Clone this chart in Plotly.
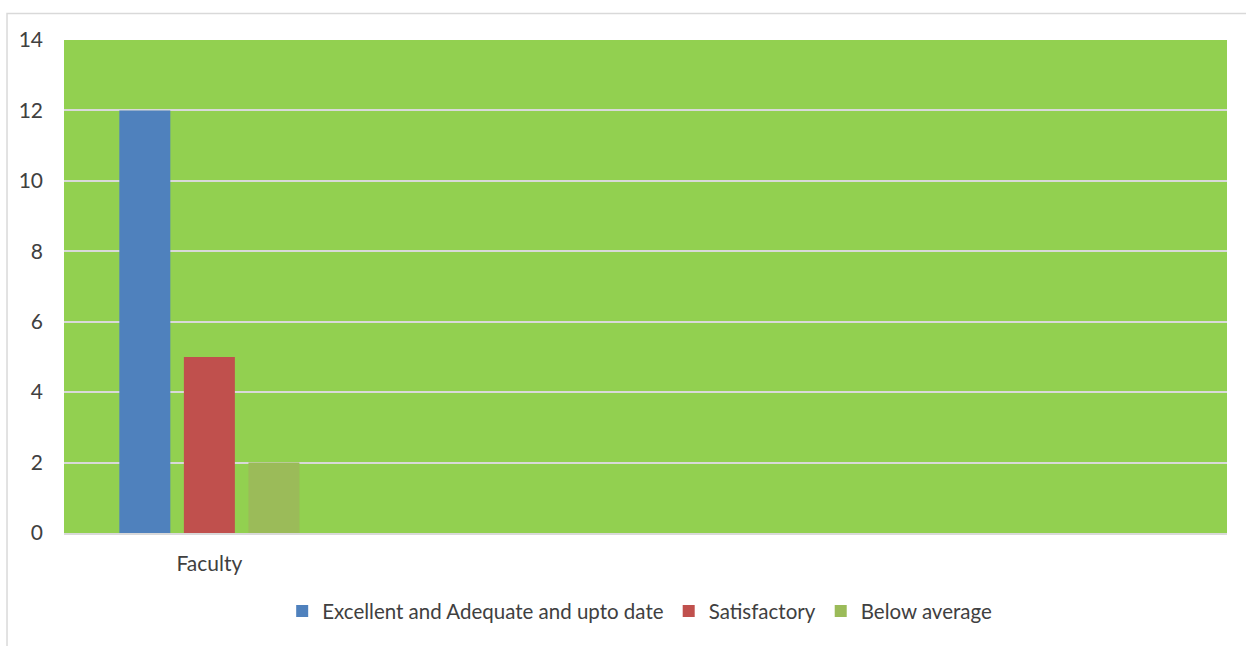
import plotly.graph_objects as go

categories = ["Faculty"]
series_names = ["Excellent and Adequate and upto date", "Satisfactory", "Below average"]
excellent = [12]
satisfactory = [5]
below_average = [2]
y_ticks = [0, 2, 4, 6, 8, 10, 12, 14]

colors = ["#4F81BD", "#C0504D", "#9BBB59"]
values = [excellent, satisfactory, below_average]

fig = go.Figure()
for name, vals, col in zip(series_names, values, colors):
    fig.add_trace(go.Bar(x=list(range(len(categories))), y=vals, name=name,
                         marker=dict(color=col, line=dict(width=0))))

font = "Lato, 'Open Sans', sans-serif"
fig.update_layout(
    width=1246, height=646,
    margin=dict(l=64, r=19, t=40, b=113),
    paper_bgcolor="white",
    plot_bgcolor="#92D050",
    barmode="group",
    bargap=0.334,
    bargroupgap=0.21,
    font=dict(family=font, size=20, color="#404040"),
    showlegend=True,
    legend=dict(orientation="h", x=0.495, xanchor="center", y=-0.118, yanchor="top",
                font=dict(family=font, size=20.5, color="#404040"),
                itemwidth=30, traceorder="normal"),
    xaxis=dict(range=[-0.5, 3.5], tickvals=list(range(len(categories))), ticktext=categories,
               showgrid=False, zeroline=False, showline=True, linecolor="#D9D9D9", linewidth=2,
               ticks="", ticklabelstandoff=11, tickfont=dict(size=21, color="#404040")),
    yaxis=dict(range=[0, 14], tickvals=y_ticks, showgrid=True, gridcolor="#D9D9D9", gridwidth=2,
               zeroline=False, showline=False, ticks="", ticklabelstandoff=20,
               tickfont=dict(size=21, color="#404040")),
    shapes=[dict(type="rect", xref="paper", yref="paper", x0=-0.0490, x1=1.1, y0=-0.40, y1=1.054,
                 line=dict(color="#D9D9D9", width=1.5), fillcolor="rgba(0,0,0,0)", layer="below")],
)

fig.write_html("out.html", config={"displayModeBar": False},
               post_script="document.body.style.margin='0px';document.body.style.padding='0px';")
